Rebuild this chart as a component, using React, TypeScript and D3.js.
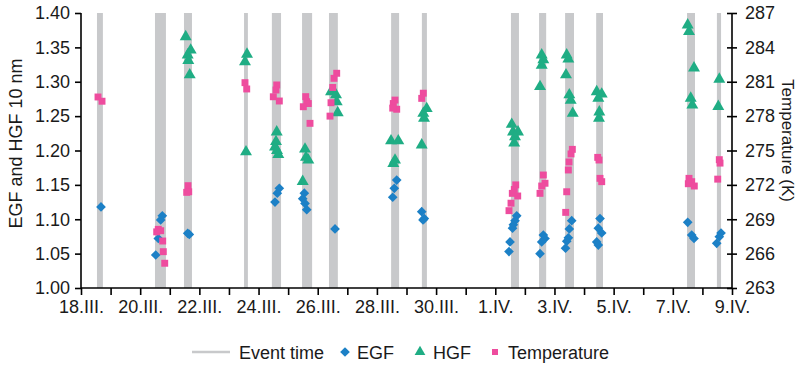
import React, { useRef, useEffect } from "react";
import * as d3 from "d3";

// time = days since 18.III. 00:00
const startDate = Date.UTC(2020, 2, 18);
const endDate = Date.UTC(2020, 3, 9);

const eventStart = [0.54, 2.5, 3.48, 5.51, 6.45, 7.47, 8.38, 10.48, 11.52, 14.53, 15.48, 16.36, 17.41, 20.48, 21.49];
const eventEnd = [0.74, 2.87, 3.75, 5.64, 6.76, 7.81, 8.68, 10.75, 11.69, 14.8, 15.72, 16.66, 17.64, 20.75, 21.63];

const egf: [number, number][] = [
    [0.676, 1.118],
    [2.748, 1.105], [2.693, 1.099], [2.612, 1.072], [2.525, 1.048],
    [3.606, 1.0796], [3.66, 1.078],
    [6.702, 1.145], [6.634, 1.138], [6.556, 1.125],
    [7.547, 1.138], [7.492, 1.13], [7.57, 1.123], [7.628, 1.114],
    [8.584, 1.086],
    [10.669, 1.157], [10.588, 1.145], [10.534, 1.132],
    [11.514, 1.111], [11.602, 1.101], [11.558, 1.099],
    [14.725, 1.105], [14.667, 1.098], [14.61, 1.092], [14.583, 1.087], [14.498, 1.067], [14.464, 1.053],
    [15.624, 1.077], [15.681, 1.072], [15.569, 1.067], [15.512, 1.05],
    [16.583, 1.098], [16.502, 1.086], [16.469, 1.073], [16.414, 1.068], [16.374, 1.058],
    [17.54, 1.101], [17.482, 1.087], [17.597, 1.08], [17.428, 1.067], [17.482, 1.0625],
    [20.503, 1.0955], [20.638, 1.077], [20.716, 1.072],
    [21.629, 1.08], [21.571, 1.0746], [21.483, 1.065],
];

const hgf: [number, number][] = [
    [3.538, 1.3655], [3.707, 1.346], [3.606, 1.339], [3.626, 1.331], [3.674, 1.31],
    [5.61, 1.34], [5.542, 1.329], [5.576, 1.198],
    [6.614, 1.227], [6.59, 1.213], [6.556, 1.205], [6.624, 1.2], [6.668, 1.194],
    [7.57, 1.202], [7.604, 1.19], [7.682, 1.186], [7.492, 1.155],
    [8.449, 1.2855], [8.618, 1.281], [8.641, 1.271], [8.675, 1.255],
    [10.477, 1.214], [10.723, 1.214], [10.612, 1.186], [10.554, 1.181],
    [11.683, 1.261], [11.568, 1.254], [11.592, 1.247], [11.514, 1.208],
    [14.556, 1.238], [14.6, 1.227], [14.769, 1.227], [14.667, 1.22], [14.64, 1.211],
    [15.569, 1.339], [15.624, 1.332], [15.569, 1.324], [15.512, 1.293],
    [16.414, 1.339], [16.469, 1.333], [16.39, 1.31], [16.502, 1.281], [16.549, 1.273], [16.617, 1.254],
    [17.428, 1.2855], [17.597, 1.282], [17.482, 1.276], [17.516, 1.256], [17.505, 1.247],
    [20.503, 1.3826], [20.547, 1.373], [20.716, 1.32], [20.605, 1.276], [20.659, 1.266],
    [21.571, 1.3036], [21.537, 1.264],
];

const temperature: [number, number][] = [
    [0.575, 279.67], [0.71, 279.3],
    [2.612, 268.12], [2.693, 268.0], [2.558, 267.9], [2.761, 267.1], [2.781, 266.17], [2.829, 265.16],
    [3.616, 271.93], [3.64, 271.4], [3.572, 271.35],
    [5.542, 280.92], [5.6, 280.37],
    [6.614, 280.72], [6.59, 280.28], [6.499, 279.69], [6.702, 279.32],
    [7.594, 279.7], [7.628, 279.26], [7.682, 279.1], [7.513, 278.82], [7.739, 277.37],
    [8.641, 281.74], [8.55, 281.3], [8.506, 280.5], [8.449, 279.17], [8.415, 278.0],
    [10.612, 279.4], [10.554, 279.1], [10.669, 278.6], [10.534, 278.7],
    [11.568, 280.0], [11.514, 279.55],
    [14.691, 272.0], [14.644, 271.6], [14.576, 271.26], [14.758, 271.03], [14.532, 270.4], [14.464, 269.75],
    [15.624, 272.86], [15.681, 272.14], [15.569, 271.9], [15.512, 271.26],
    [16.604, 275.1], [16.56, 274.7], [16.492, 274.0], [16.469, 273.3], [16.414, 271.4], [16.38, 269.6],
    [17.462, 274.4], [17.506, 274.17], [17.54, 272.57], [17.597, 272.28],
    [20.547, 272.57], [20.638, 272.28], [20.726, 271.9], [20.524, 272.1],
    [21.571, 274.2], [21.595, 273.9], [21.517, 272.5],
];

const leftTicks = [1.0, 1.05, 1.1, 1.15, 1.2, 1.25, 1.3, 1.35, 1.4];
const rightTicks = [263, 266, 269, 272, 275, 278, 281, 284, 287];
const romanMonths = ["I", "II", "III", "IV", "V", "VI", "VII", "VIII", "IX", "X", "XI", "XII"];

const colors = {
    event: "#c8c9cb",
    egf: "#1c80c6",
    hgf: "#1fad84",
    temp: "#ee4c9e",
};

const toDate = (day: number) => new Date(startDate + day * 864e5);

const App: React.FC = () => {
    const ref = useRef<SVGSVGElement | null>(null);

    useEffect(() => {
        const svg = d3.select(ref.current);
        svg.selectAll("*").remove();

        const margin = { top: 13, right: 68, bottom: 77, left: 81 };
        const width = 800 - margin.left - margin.right;
        const height = 365 - margin.top - margin.bottom;

        const x = d3.scaleUtc().domain([new Date(startDate), new Date(endDate)]).range([0, width]);
        const y = d3.scaleLinear().domain([1.0, 1.4]).range([height, 0]);
        const yT = d3.scaleLinear().domain([263, 287]).range([height, 0]);

        const g = svg.append("g").attr("transform", `translate(${margin.left},${margin.top})`);

        // event bands
        g.selectAll(".event")
            .data(eventStart.map((s, i) => [s, eventEnd[i]]))
            .enter()
            .append("rect")
            .attr("x", (d) => x(toDate(d[0])))
            .attr("width", (d) => x(toDate(d[1])) - x(toDate(d[0])))
            .attr("y", 0)
            .attr("height", height)
            .attr("fill", colors.event);

        const font = "'Liberation Sans', Arial, Helvetica, sans-serif";

        // x axis
        const days = d3.utcDay.range(new Date(startDate), new Date(endDate + 1));
        const xAxis = d3
            .axisBottom(x)
            .tickValues(days)
            .tickSize(7)
            .tickPadding(5)
            .tickFormat((d, i) =>
                i % 2 === 0 ? `${(d as Date).getUTCDate()}.${romanMonths[(d as Date).getUTCMonth()]}.` : ""
            );
        const gx = g.append("g").attr("transform", `translate(0,${height})`).call(xAxis);

        const yAxis = d3.axisLeft(y).tickValues(leftTicks).tickSize(6).tickPadding(5).tickFormat(d3.format(".2f"));
        const gy = g.append("g").call(yAxis);

        const yAxisR = d3.axisRight(yT).tickValues(rightTicks).tickSize(5).tickPadding(8);
        const gr = g.append("g").attr("transform", `translate(${width},0)`).call(yAxisR);
        gr.selectAll(".tick line").attr("x1", -5);

        [gx, gy, gr].forEach((a) => {
            a.select(".domain").attr("stroke", "#000").attr("stroke-width", 1.6);
            a.selectAll(".tick line").attr("stroke", "#000").attr("stroke-width", 1.6);
            a.selectAll("text").attr("fill", "#1a1a1a").style("font-size", "18px").style("font-family", font);
        });
        gx.select(".domain").attr("d", `M0,0H${width}`);
        gy.select(".domain").attr("d", `M0,0V${height}`);
        gr.select(".domain").attr("d", `M0,0V${height}`);

        // markers
        const symEgf = d3.symbol().type(d3.symbolDiamond2).size(60);
        const symHgf = d3.symbol().type(d3.symbolTriangle).size(62);
        const symTemp = d3.symbol().type(d3.symbolSquare).size(48);

        g.selectAll(".egf")
            .data(egf)
            .enter()
            .append("path")
            .attr("transform", (d) => `translate(${x(toDate(d[0]))},${y(d[1])})`)
            .attr("d", symEgf)
            .attr("fill", colors.egf);

        g.selectAll(".hgf")
            .data(hgf)
            .enter()
            .append("path")
            .attr("transform", (d) => `translate(${x(toDate(d[0]))},${y(d[1])})`)
            .attr("d", symHgf)
            .attr("fill", colors.hgf);

        g.selectAll(".temp")
            .data(temperature)
            .enter()
            .append("path")
            .attr("transform", (d) => `translate(${x(toDate(d[0]))},${yT(d[1])})`)
            .attr("d", symTemp)
            .attr("fill", colors.temp);

        // axis titles
        svg.append("text")
            .attr("transform", `translate(22,${margin.top + height / 2 - 7}) rotate(-90)`)
            .attr("text-anchor", "middle")
            .style("font-size", "18px")
            .style("font-family", font)
            .attr("fill", "#1a1a1a")
            .text("EGF and HGF 10 nm");

        svg.append("text")
            .attr("transform", `translate(782,${margin.top + height / 2 - 10}) rotate(90)`)
            .attr("text-anchor", "middle")
            .style("font-size", "17px")
            .style("font-family", font)
            .attr("fill", "#1a1a1a")
            .text("Temperature (K)");

        // legend
        const legend = svg.append("g").attr("transform", "translate(0,352)");
        legend.append("line")
            .attr("x1", 192)
            .attr("x2", 230)
            .attr("stroke", colors.event)
            .attr("stroke-width", 2.5);
        const items = [
            { label: "Event time", x: 239 },
            { label: "EGF", x: 357, sym: symEgf, color: colors.egf, sx: 345 },
            { label: "HGF", x: 433, sym: d3.symbol().type(d3.symbolTriangle).size(50), color: colors.hgf, sx: 420 },
            { label: "Temperature", x: 508, sym: d3.symbol().type(d3.symbolSquare).size(36), color: colors.temp, sx: 495 },
        ];
        items.forEach((it) => {
            if (it.sym) {
                legend.append("path")
                    .attr("transform", `translate(${it.sx},0)`)
                    .attr("d", it.sym)
                    .attr("fill", it.color);
            }
            legend.append("text")
                .attr("x", it.x)
                .attr("y", 6.5)
                .style("font-size", "18px")
                .style("font-family", font)
                .attr("fill", "#1a1a1a")
                .text(it.label);
        });
    }, []);

    return (
        <div>
            <svg ref={ref} width={800} height={365} style={{ position: "absolute", left: 0, top: 0 }}></svg>
        </div>
    );
};

export default App;
